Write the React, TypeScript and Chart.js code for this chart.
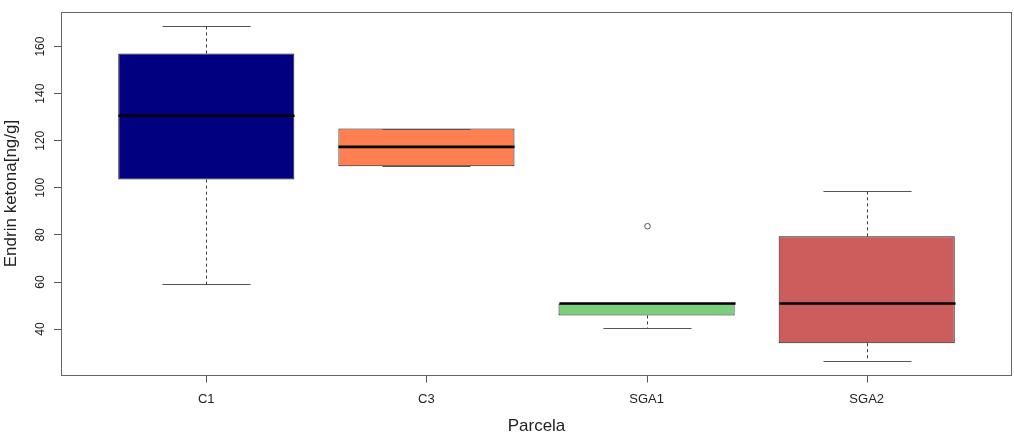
import { useEffect, useRef } from 'react';
import { Chart, registerables } from 'chart.js';

Chart.register(...registerables);

// Box-and-whisker summary per plot (parcela), Endrin ketona in ng/g
const parcelas = ['C1', 'C3', 'SGA1', 'SGA2'];
const whiskerLow = [59.0, 109.2, 40.3, 26.3];
const quartile1 = [103.5, 109.2, 45.8, 34.0];
const medians = [130.6, 117.4, 50.9, 50.9];
const quartile3 = [157.1, 125.2, 50.9, 79.4];
const whiskerHigh = [168.9, 125.2, 50.9, 98.7];
const outliers: number[][] = [[], [], [83.7], []];
const yTicks = [40, 60, 80, 100, 120, 140, 160];
const boxColors = ['#000080', '#FF7F50', '#7CCD7C', '#CD5C5C'];

const Y_MIN = 20.5;
const Y_MAX = 174.7;
const X_MIN = 0.34;
const X_MAX = 4.66;
const FONT = '"Liberation Sans", Arial, Helvetica, sans-serif';

// Whiskers, staples, medians, outlier points, frame, x tick marks and the rotated y-axis text
const boxplotExtras = {
  id: 'boxplotExtras',
  afterDatasetsDraw(chart: any) {
    const { ctx, scales } = chart;
    const xs = scales.x;
    const ys = scales.y;
    const boxHalf = xs.getPixelForValue(1.4) - xs.getPixelForValue(1);
    const capHalf = boxHalf / 2;
    ctx.save();
    parcelas.forEach((_, i) => {
      const cx = Math.round(xs.getPixelForValue(i + 1)) + 0.5;
      const yLo = ys.getPixelForValue(whiskerLow[i]);
      const yQ1 = ys.getPixelForValue(quartile1[i]);
      const yQ3 = ys.getPixelForValue(quartile3[i]);
      const yHi = ys.getPixelForValue(whiskerHigh[i]);
      const yMed = ys.getPixelForValue(medians[i]);

      // dashed whiskers
      ctx.strokeStyle = '#3a3a3a';
      ctx.lineWidth = 1;
      ctx.setLineDash([3, 3]);
      ctx.beginPath();
      if (yHi < yQ3) {
        ctx.moveTo(cx, yQ3);
        ctx.lineTo(cx, yHi);
      }
      if (yLo > yQ1) {
        ctx.moveTo(cx, yQ1);
        ctx.lineTo(cx, yLo);
      }
      ctx.stroke();
      ctx.setLineDash([]);

      // staples
      ctx.strokeStyle = '#555555';
      ctx.beginPath();
      const hi = Math.round(yHi) + 0.5;
      const lo = Math.round(yLo) + 0.5;
      ctx.moveTo(cx - capHalf, hi);
      ctx.lineTo(cx + capHalf, hi);
      ctx.moveTo(cx - capHalf, lo);
      ctx.lineTo(cx + capHalf, lo);
      ctx.stroke();

      // median
      ctx.strokeStyle = '#000000';
      ctx.lineWidth = 2.6;
      ctx.beginPath();
      ctx.moveTo(cx - boxHalf, yMed);
      ctx.lineTo(cx + boxHalf, yMed);
      ctx.stroke();

      // outliers
      ctx.lineWidth = 1;
      ctx.strokeStyle = '#555555';
      outliers[i].forEach((v) => {
        ctx.beginPath();
        ctx.arc(cx, ys.getPixelForValue(v), 2.8, 0, Math.PI * 2);
        ctx.stroke();
      });
    });
    ctx.restore();
  },
  afterDraw(chart: any) {
    const { ctx, chartArea, scales } = chart;
    const xs = scales.x;
    const ys = scales.y;
    ctx.save();
    // frame around the plotting region
    ctx.strokeStyle = '#666666';
    ctx.lineWidth = 1;
    const bottom = Math.round(chartArea.bottom) + 0.5;
    ctx.strokeRect(
      Math.round(chartArea.left) + 0.5,
      Math.round(chartArea.top) + 0.5,
      Math.round(chartArea.right - chartArea.left) - 1,
      Math.round(chartArea.bottom - chartArea.top)
    );
    // x tick marks below the frame
    ctx.strokeStyle = '#555555';
    ctx.beginPath();
    xs.ticks.forEach((t: any) => {
      const px = Math.round(xs.getPixelForValue(t.value)) + 0.5;
      ctx.moveTo(px, bottom);
      ctx.lineTo(px, bottom + 7);
    });
    ctx.stroke();
    // y tick labels, parallel to the axis
    ctx.fillStyle = '#222222';
    ctx.font = `12px ${FONT}`;
    ctx.textAlign = 'center';
    ctx.textBaseline = 'middle';
    yTicks.forEach((t) => {
      ctx.save();
      ctx.translate(41, ys.getPixelForValue(t));
      ctx.rotate(-Math.PI / 2);
      ctx.fillText(String(t), 0, 0);
      ctx.restore();
    });
    // y axis title
    ctx.font = `17px ${FONT}`;
    ctx.save();
    ctx.translate(11, (chartArea.top + chartArea.bottom) / 2);
    ctx.rotate(-Math.PI / 2);
    ctx.fillText('Endrin ketona[ng/g]', 0, 0);
    ctx.restore();
    ctx.restore();
  },
};

export default function App() {
  const canvasRef = useRef<HTMLCanvasElement | null>(null);

  useEffect(() => {
    const canvas = canvasRef.current;
    if (!canvas) return;
    const chart = new Chart(canvas, {
      type: 'bar',
      data: {
        datasets: [
          {
            data: parcelas.map((_, i) => ({ x: i + 1, y: [quartile1[i], quartile3[i]] })) as any,
            backgroundColor: boxColors,
            borderColor: '#1e1e1e',
            borderWidth: 1,
            borderSkipped: false,
            barPercentage: 0.8,
            categoryPercentage: 1,
          },
        ],
      },
      options: {
        animation: false,
        responsive: true,
        maintainAspectRatio: false,
        layout: { padding: { top: 12, right: 2, left: 0, bottom: 0 } },
        plugins: {
          legend: { display: false },
          tooltip: { enabled: false },
        },
        scales: {
          x: {
            type: 'linear',
            min: X_MIN,
            max: X_MAX,
            offset: false,
            afterBuildTicks: (scale: any) => {
              scale.ticks = parcelas.map((_, i) => ({ value: i + 1 }));
            },
            afterFit: (scale: any) => {
              scale.height = 66;
            },
            grid: { display: false },
            border: { display: false },
            ticks: {
              autoSkip: false,
              maxRotation: 0,
              minRotation: 0,
              padding: 9,
              color: '#222222',
              font: { family: FONT, size: 13 },
              callback: (v: any) => parcelas[Number(v) - 1] ?? '',
            },
            title: {
              display: true,
              text: 'Parcela',
              color: '#222222',
              font: { family: FONT, size: 17 },
              padding: { top: 0, bottom: 4 },
            },
          },
          y: {
            type: 'linear',
            min: Y_MIN,
            max: Y_MAX,
            afterBuildTicks: (scale: any) => {
              scale.ticks = yTicks.map((v) => ({ value: v }));
            },
            afterFit: (scale: any) => {
              scale.width = 61;
            },
            grid: {
              drawOnChartArea: false,
              drawTicks: true,
              tickLength: 7,
              color: '#555555',
            },
            border: { display: false },
            ticks: { display: false },
          },
        },
      },
      plugins: [boxplotExtras],
    });
    return () => chart.destroy();
  }, []);

  return (
    <div style={{ position: 'fixed', left: 0, top: 0, width: 1014, height: 441, background: '#ffffff' }}>
      <canvas ref={canvasRef} />
    </div>
  );
}
